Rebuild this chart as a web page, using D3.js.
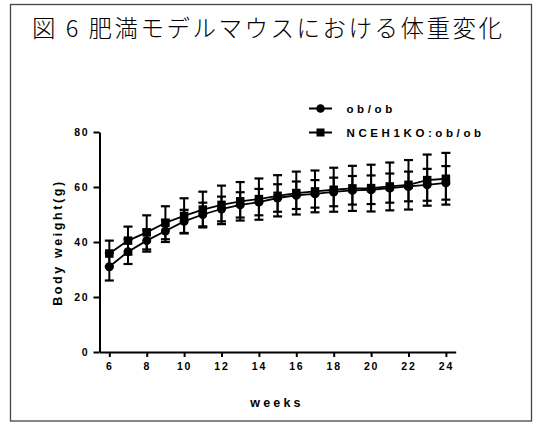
<!DOCTYPE html>
<html lang="ja">
<head>
  <meta charset="UTF-8" />
  <title>図 6 肥満モデルマウスにおける体重変化</title>
  <script src="https://d3js.org/d3.v7.min.js"></script>
  <style>
    html, body { margin: 0; padding: 0; background: #fff; }
    svg { display: block; }
    .lbl { font-family: "Liberation Sans", Arial, sans-serif; font-weight: bold; fill: #000; }
  </style>
</head>
<body>
  <svg id="chart" width="533" height="423"></svg>

  <script>
    // data (weeks, mean, SD)
    const weeks = [6, 7, 8, 9, 10, 11, 12, 13, 14, 15, 16, 17, 18, 19, 20, 21, 22, 23, 24];
    const obMean = [31, 36.5, 40.5, 44, 47.5, 50, 52, 53.5, 54.5, 56, 57, 57.5, 58.2, 58.8, 59, 59.6, 60.2, 60.8, 61.5];
    const obSD = [5, 4.5, 4, 4, 4.2, 4.3, 4.5, 4.6, 4.8, 5, 5, 5, 5.2, 5.2, 5.2, 5.3, 5.4, 5.8, 6.1];
    const koMean = [35.8, 40.5, 43.5, 47, 49.5, 51.8, 53.5, 54.8, 55.6, 56.8, 57.8, 58.4, 59, 59.5, 59.6, 60.2, 60.8, 62.5, 63];
    const koSD = [4.7, 5.1, 6.2, 6.0, 6.4, 6.5, 7.0, 7.0, 7.5, 7.5, 7.8, 7.6, 8.0, 8.2, 8.5, 8.7, 9.0, 9.3, 9.4];
    const seriesNames = ["ob/ob", "NCEH1KO:ob/ob"];
    const xTicks = [6, 8, 10, 12, 14, 16, 18, 20, 22, 24];
    const yTicks = [0, 20, 40, 60, 80];

    const svg = d3.select("#chart");

    // frame
    svg.append("rect")
      .attr("x", 10.5).attr("y", 4.5)
      .attr("width", 521).attr("height", 416.5)
      .attr("fill", "none")
      .attr("stroke", "#444")
      .attr("stroke-width", 1.3);

    // title
    svg.append("text")
      .attr("x", 32)
      .attr("y", 37)
      .attr("font-family", "'Noto Sans CJK JP', sans-serif")
      .attr("font-weight", 300)
      .attr("font-size", 23.5)
      .attr("textLength", 470)
      .attr("lengthAdjust", "spacing")
      .text("図 6 肥満モデルマウスにおける体重変化");

    const x = d3.scaleLinear().domain([5.475, 24.525]).range([99.5, 455.7]);
    const y = d3.scaleLinear().domain([0, 80]).range([352, 132]);

    // axes
    const xAxis = svg.append("g")
      .attr("transform", "translate(0,352)")
      .call(d3.axisBottom(x).tickValues(xTicks).tickSize(5).tickSizeOuter(0).tickPadding(6));
    const yAxis = svg.append("g")
      .attr("transform", "translate(99.5,0)")
      .call(d3.axisLeft(y).tickValues(yTicks).tickSize(6).tickSizeOuter(0).tickPadding(4));

    [xAxis, yAxis].forEach(g => {
      g.select(".domain").attr("stroke", "#000").attr("stroke-width", 2);
      g.selectAll(".tick line").attr("stroke", "#000").attr("stroke-width", 2);
      g.selectAll(".tick text")
        .attr("class", "lbl")
        .attr("font-size", 10.5)
        .style("letter-spacing", "1.8px");
    });

    // axis titles
    svg.append("text")
      .attr("class", "lbl")
      .attr("x", 277).attr("y", 406.5)
      .attr("text-anchor", "middle")
      .attr("font-size", 12.5)
      .style("letter-spacing", "3.2px")
      .text("weeks");

    svg.append("text")
      .attr("class", "lbl")
      .attr("transform", "translate(62,242.5) rotate(-90)")
      .attr("text-anchor", "middle")
      .attr("font-size", 12.5)
      .style("letter-spacing", "2.6px")
      .text("Body weight(g)");

    // series
    const series = [
      { name: seriesNames[0], mean: obMean, sd: obSD, shape: "circle" },
      { name: seriesNames[1], mean: koMean, sd: koSD, shape: "square" }
    ];

    const line = d3.line().x(d => x(d.w)).y(d => y(d.m));
    const capW = 4.5;

    series.forEach(s => {
      const pts = weeks.map((w, i) => ({ w: w, m: s.mean[i], sd: s.sd[i] }));

      svg.append("path")
        .datum(pts)
        .attr("d", line)
        .attr("fill", "none")
        .attr("stroke", "#000")
        .attr("stroke-width", 1.8);

      const eb = svg.append("g").selectAll("g").data(pts).enter().append("g");
      eb.append("line")
        .attr("x1", d => x(d.w)).attr("x2", d => x(d.w))
        .attr("y1", d => y(d.m + d.sd)).attr("y2", d => y(d.m - d.sd))
        .attr("stroke", "#000").attr("stroke-width", 2);
      [1, -1].forEach(sign => {
        eb.append("line")
          .attr("x1", d => x(d.w) - capW).attr("x2", d => x(d.w) + capW)
          .attr("y1", d => y(d.m + sign * d.sd)).attr("y2", d => y(d.m + sign * d.sd))
          .attr("stroke", "#000").attr("stroke-width", 2.2);
      });
    });

    function drawMarker(g, shape, cx, cy, size) {
      if (shape === "circle") {
        g.append("circle").attr("cx", cx).attr("cy", cy).attr("r", size / 2).attr("fill", "#000");
      } else {
        g.append("rect").attr("x", cx - size / 2).attr("y", cy - size / 2)
          .attr("width", size).attr("height", size).attr("fill", "#000");
      }
    }

    series.forEach(s => {
      const g = svg.append("g");
      weeks.forEach((w, i) => drawMarker(g, s.shape, x(w), y(s.mean[i]), s.shape === "circle" ? 9 : 8.5));
    });

    // legend
    const legend = svg.append("g");
    series.forEach((s, i) => {
      const ly = 108.5 + i * 24;
      legend.append("line")
        .attr("x1", 309).attr("x2", 332)
        .attr("y1", ly).attr("y2", ly)
        .attr("stroke", "#000").attr("stroke-width", 2);
      drawMarker(legend, s.shape, 320.5, ly, s.shape === "circle" ? 8.5 : 8);
      legend.append("text")
        .attr("class", "lbl")
        .attr("x", 346.5).attr("y", ly + 4.2)
        .attr("font-size", 11.5)
        .style("letter-spacing", "3.6px")
        .text(s.name);
    });
  </script>
</body>
</html>
